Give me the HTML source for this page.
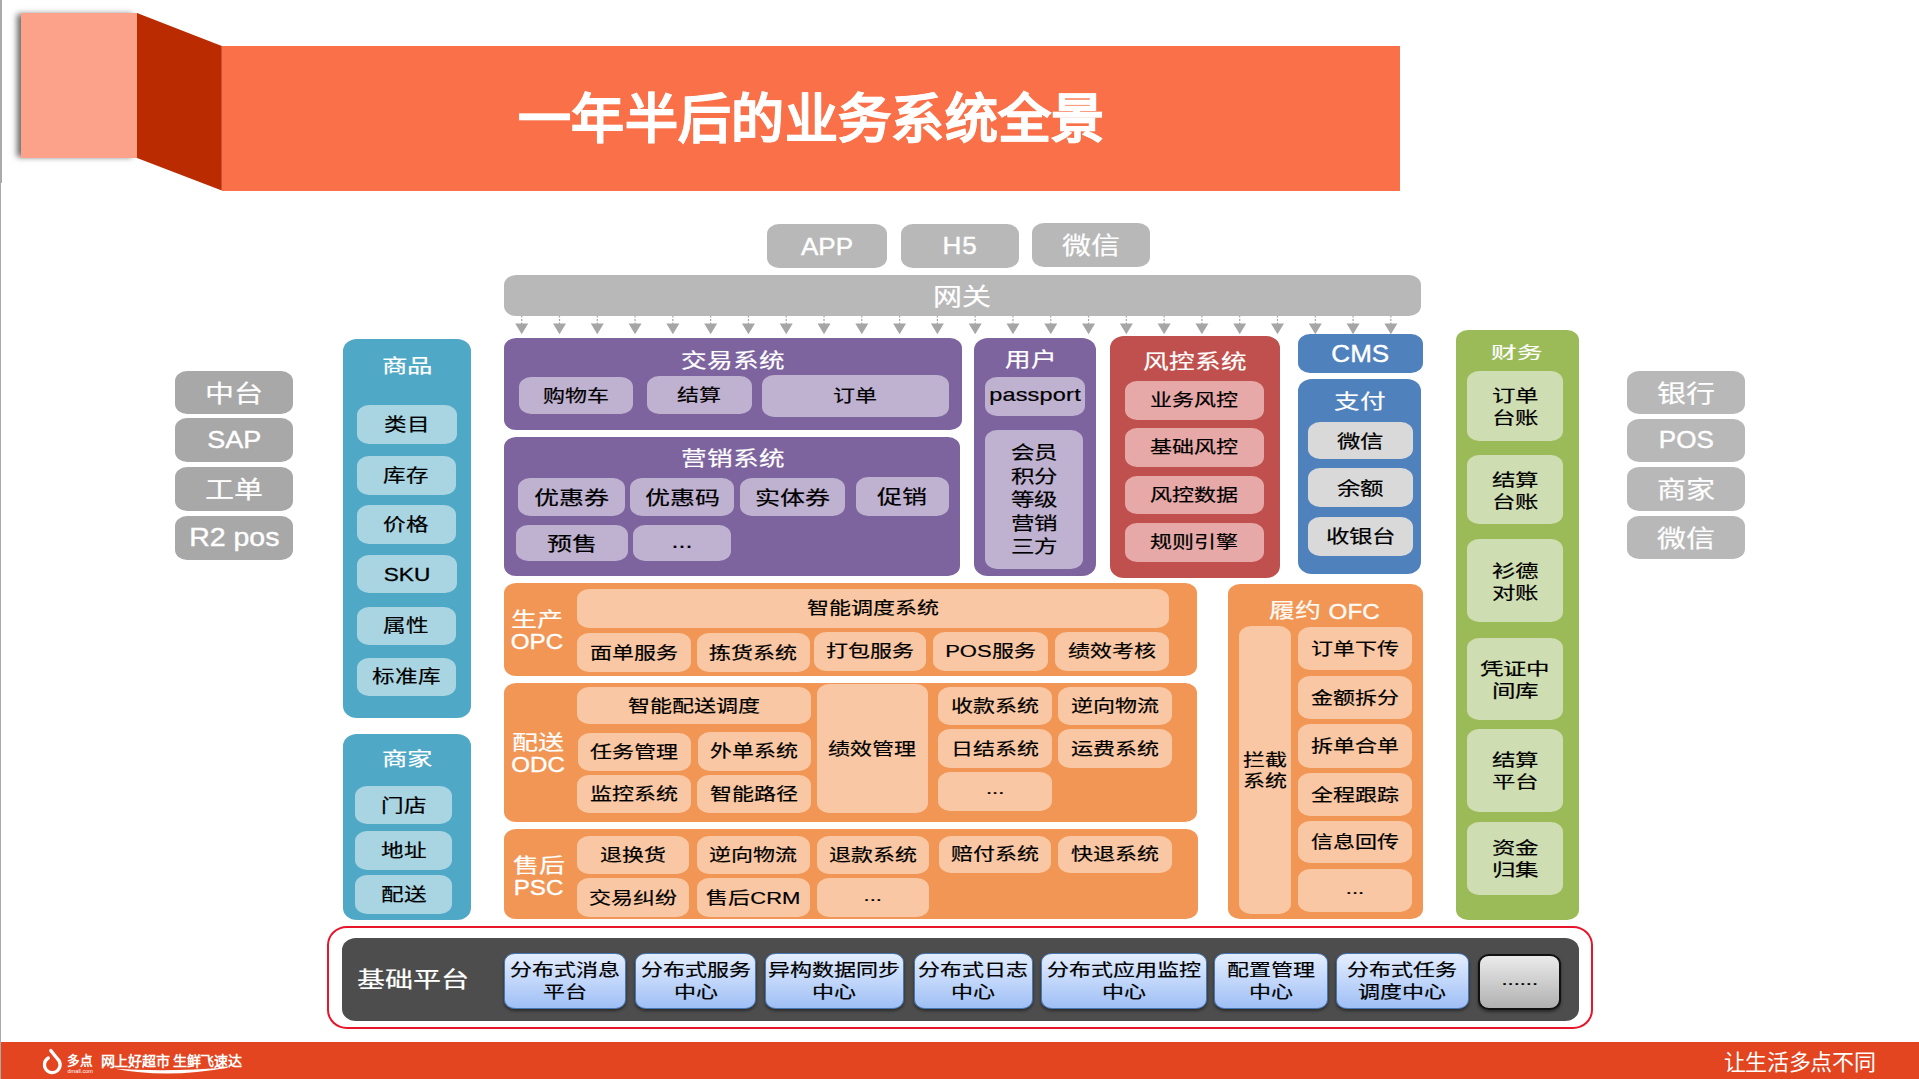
<!DOCTYPE html>
<html lang="zh-CN">
<head>
<meta charset="utf-8">
<title>一年半后的业务系统全景</title>
<style>
html,body{margin:0;padding:0;}
body{width:1919px;height:1079px;overflow:hidden;background:#fff;position:relative;font-family:"Liberation Sans",sans-serif;}
.b{position:absolute;box-sizing:border-box;border-radius:12px/10px;display:flex;align-items:center;justify-content:center;text-align:center;white-space:nowrap;color:#000;}
.b span{display:block;transform:scaleY(.78);position:relative;top:-1px;-webkit-text-stroke:0.25px currentColor;}
.l{position:absolute;transform:translate(-50%,-50%) scaleY(.78);white-space:nowrap;text-align:center;margin-top:-1.8px;-webkit-text-stroke:0.25px currentColor;}
.la{display:inline-block;font-size:.93em;transform:scaleY(1.15);-webkit-text-stroke:0.4px currentColor;}
.wt{color:#fff;}
.cream{color:#fffaf5;}
.t19b{font-size:25.6px;transform:translate(-50%,-50%) scaleY(.63);}
.t22{font-size:25.4px;}
.t23{font-size:26px;}
.t24{font-size:26px;}
.t25{font-size:25.6px;}
.t27{font-size:28px;}
.two{line-height:27px;}
.s21 span{font-size:22px;top:-1.9px;}
.s22 span{font-size:22px;}
.s23 span{font-size:23.5px;}
.s24 span{font-size:25px;}
.ml span{line-height:30px;top:0.6px;}
.ml2 span{line-height:25.6px;top:0.2px;}
.ml3 span{line-height:30.5px;top:1.4px;transform:scaleY(.72);}
.ml4 span{line-height:26.6px;top:0.4px;}
.r12{border-radius:14px/12px;}
.g1{background:#b8b8b8;color:#fff;font-size:29px;}
.g1 span,.g2 span,.g3 span{transform:scaleY(.82);top:-1.6px;}
.gw{border-radius:12px/10px;}
.g2{background:#a8a8a8;color:#fff;font-size:29px;}
.g3{background:#b8b8b8;color:#fff;font-size:29px;}
.b.lat span{font-size:26px;top:0.6px;transform:scaleY(.9);-webkit-text-stroke:0.45px currentColor;}
.b.pp span{font-size:23.5px;letter-spacing:0.2px;top:-0.5px;}
.b.r2 span{font-size:28.5px;top:-0.5px;}
.b.sap span{font-size:27px;}
.b.cms span{top:1.1px;}
.b.sku span{top:0.5px;transform:scaleY(.79);-webkit-text-stroke:0.4px currentColor;}
.b.app span{top:1.2px;}
.teal{background:#4fa8c6;border-radius:14px/12px;}
.teali{background:#a9d5e3;font-size:22.6px;}
.pur{background:#7e649e;}
.puri{background:#bfb1d0;}
.red{background:#c0504d;}
.redi{background:#e6a9a7;}
.blue{background:#4f81bd;}
.bluei{background:#d9d9d9;}
.org{background:#f19654;}
.orgi{background:#f9c7a3;}
.grn{background:#9bbb59;}
.grni{background:#cfddb2;}
.dark{background:#4d4d4d;border-radius:14px/12px;}
.bl{background:linear-gradient(#e4eeff,#9fbff5);border:1.5px solid #4878b4;border-radius:11px/9px;box-shadow:0 2px 3px rgba(0,0,0,.45);}
.gl{background:linear-gradient(#ebebeb,#b0b0b0);border:2px solid #111;border-radius:11px/10px;box-shadow:0 2px 3px rgba(0,0,0,.45);}
.redline{position:absolute;box-sizing:border-box;border:2.7px solid #e8152b;border-radius:20px/19px;}
.ar{position:absolute;left:0;top:0;}
.ar line{stroke:#a6a6a6;stroke-width:1.2;stroke-dasharray:2 1.5;}
.ar polygon{fill:#a6a6a6;}
#edge1{position:absolute;left:0;top:0;width:2px;height:182.5px;background:#aaa;}
#edge2{position:absolute;left:0;top:0;width:1px;height:1079px;background:#aaa;}
#sq{position:absolute;left:20.5px;top:13px;width:117px;height:145px;background:#fca18a;box-shadow:-5px 0 6px -1px rgba(0,0,0,.58);}
#banner{position:absolute;left:221.5px;top:46px;width:1178.5px;height:144.5px;background:#fa7048;}
#title{position:absolute;left:518px;top:118.5px;-webkit-text-stroke:0.7px #fff;transform:translateY(-50%);color:#fff;font-weight:bold;font-size:53px;letter-spacing:0.33px;white-space:nowrap;line-height:1;}
#foot{position:absolute;left:1px;top:1041.7px;width:1918px;height:37.3px;background:#e2451f;}
#slogan{position:absolute;left:1723.7px;top:1063px;transform:translateY(-50%);color:#fff;font-size:22px;letter-spacing:-0.35px;white-space:nowrap;line-height:1;font-weight:300;}
#brand{position:absolute;left:67.3px;top:1060.6px;transform:translateY(-50%);color:#fff;font-size:12.6px;font-weight:bold;white-space:nowrap;line-height:1;}
#brand2{position:absolute;left:67.5px;top:1068.6px;color:#fff;font-size:5.6px;white-space:nowrap;line-height:1;}
#tag{position:absolute;left:100.7px;top:1061px;transform:translateY(-50%);color:#fff;font-size:14px;letter-spacing:-0.29px;font-weight:bold;white-space:nowrap;line-height:1;}
</style>
</head>
<body>
<div id="edge2"></div><div id="edge1"></div>
<div id="sq"></div>
<svg class="ar" width="1919" height="1079" viewBox="0 0 1919 1079"><polygon points="137,13 221.8,46 221.8,190.5 137,158" style="fill:#ba2b02"/></svg>
<div id="banner"></div>
<div id="title">一年半后的业务系统全景</div>
<svg class="ar" width="1919" height="1079" viewBox="0 0 1919 1079"><line x1="521.70" y1="315.5" x2="521.70" y2="324" /><polygon points="515.20,323.6 528.20,323.6 521.70,334.3" /><line x1="559.49" y1="315.5" x2="559.49" y2="324" /><polygon points="552.99,323.6 565.99,323.6 559.49,334.3" /><line x1="597.28" y1="315.5" x2="597.28" y2="324" /><polygon points="590.78,323.6 603.78,323.6 597.28,334.3" /><line x1="635.07" y1="315.5" x2="635.07" y2="324" /><polygon points="628.57,323.6 641.57,323.6 635.07,334.3" /><line x1="672.86" y1="315.5" x2="672.86" y2="324" /><polygon points="666.36,323.6 679.36,323.6 672.86,334.3" /><line x1="710.65" y1="315.5" x2="710.65" y2="324" /><polygon points="704.15,323.6 717.15,323.6 710.65,334.3" /><line x1="748.44" y1="315.5" x2="748.44" y2="324" /><polygon points="741.94,323.6 754.94,323.6 748.44,334.3" /><line x1="786.23" y1="315.5" x2="786.23" y2="324" /><polygon points="779.73,323.6 792.73,323.6 786.23,334.3" /><line x1="824.02" y1="315.5" x2="824.02" y2="324" /><polygon points="817.52,323.6 830.52,323.6 824.02,334.3" /><line x1="861.81" y1="315.5" x2="861.81" y2="324" /><polygon points="855.31,323.6 868.31,323.6 861.81,334.3" /><line x1="899.60" y1="315.5" x2="899.60" y2="324" /><polygon points="893.10,323.6 906.10,323.6 899.60,334.3" /><line x1="937.39" y1="315.5" x2="937.39" y2="324" /><polygon points="930.89,323.6 943.89,323.6 937.39,334.3" /><line x1="975.18" y1="315.5" x2="975.18" y2="324" /><polygon points="968.68,323.6 981.68,323.6 975.18,334.3" /><line x1="1012.97" y1="315.5" x2="1012.97" y2="324" /><polygon points="1006.47,323.6 1019.47,323.6 1012.97,334.3" /><line x1="1050.76" y1="315.5" x2="1050.76" y2="324" /><polygon points="1044.26,323.6 1057.26,323.6 1050.76,334.3" /><line x1="1088.55" y1="315.5" x2="1088.55" y2="324" /><polygon points="1082.05,323.6 1095.05,323.6 1088.55,334.3" /><line x1="1126.34" y1="315.5" x2="1126.34" y2="324" /><polygon points="1119.84,323.6 1132.84,323.6 1126.34,334.3" /><line x1="1164.13" y1="315.5" x2="1164.13" y2="324" /><polygon points="1157.63,323.6 1170.63,323.6 1164.13,334.3" /><line x1="1201.92" y1="315.5" x2="1201.92" y2="324" /><polygon points="1195.42,323.6 1208.42,323.6 1201.92,334.3" /><line x1="1239.71" y1="315.5" x2="1239.71" y2="324" /><polygon points="1233.21,323.6 1246.21,323.6 1239.71,334.3" /><line x1="1277.50" y1="315.5" x2="1277.50" y2="324" /><polygon points="1271.00,323.6 1284.00,323.6 1277.50,334.3" /><line x1="1315.29" y1="315.5" x2="1315.29" y2="324" /><polygon points="1308.79,323.6 1321.79,323.6 1315.29,334.3" /><line x1="1353.08" y1="315.5" x2="1353.08" y2="324" /><polygon points="1346.58,323.6 1359.58,323.6 1353.08,334.3" /><line x1="1390.87" y1="315.5" x2="1390.87" y2="324" /><polygon points="1384.37,323.6 1397.37,323.6 1390.87,334.3" /></svg>
<div class="b g1 lat app" style="left:767.00px;top:224.20px;width:120.00px;height:43.50px;"><span>APP</span></div>
<div class="b g1 lat" style="left:901.00px;top:224.20px;width:118.20px;height:43.50px;letter-spacing:1px;"><span>H5</span></div>
<div class="b g1" style="left:1031.80px;top:223.00px;width:118.20px;height:43.60px;"><span>微信</span></div>
<div class="b g1 gw" style="left:503.75px;top:275.20px;width:917.25px;height:40.40px;"><span>网关</span></div>
<div class="b g2" style="left:175.20px;top:370.70px;width:118.30px;height:43.40px;"><span>中台</span></div>
<div class="b g2 lat sap" style="left:175.20px;top:418.30px;width:118.30px;height:43.40px;"><span>SAP</span></div>
<div class="b g2" style="left:175.20px;top:467.30px;width:118.30px;height:43.30px;"><span>工单</span></div>
<div class="b g2 lat r2" style="left:175.20px;top:516.20px;width:118.30px;height:43.60px;"><span>R2 pos</span></div>
<div class="b g3" style="left:1627.30px;top:371.00px;width:118.00px;height:43.00px;"><span>银行</span></div>
<div class="b g3 lat" style="left:1627.30px;top:418.50px;width:118.00px;height:43.20px;"><span>POS</span></div>
<div class="b g3" style="left:1627.30px;top:467.10px;width:118.00px;height:43.60px;"><span>商家</span></div>
<div class="b g3" style="left:1627.30px;top:516.10px;width:118.00px;height:43.20px;"><span>微信</span></div>
<div class="b teal" style="left:343.30px;top:339.00px;width:127.60px;height:378.80px;"><span></span></div>
<div class="l wt t22" style="left:407.00px;top:365.30px;">商品</div>
<div class="b teali" style="left:357.00px;top:405.00px;width:99.60px;height:39.00px;"><span>类目</span></div>
<div class="b teali" style="left:357.00px;top:455.70px;width:98.50px;height:39.30px;"><span>库存</span></div>
<div class="b teali" style="left:357.00px;top:505.00px;width:98.50px;height:39.00px;"><span>价格</span></div>
<div class="b teali sku" style="left:357.00px;top:555.20px;width:100.00px;height:38.30px;"><span>SKU</span></div>
<div class="b teali" style="left:357.00px;top:606.60px;width:98.50px;height:38.30px;"><span>属性</span></div>
<div class="b teali" style="left:357.00px;top:657.60px;width:98.50px;height:38.70px;"><span>标准库</span></div>
<div class="b teal" style="left:343.30px;top:734.40px;width:127.60px;height:185.90px;"><span></span></div>
<div class="l wt t22" style="left:407.00px;top:758.50px;">商家</div>
<div class="b teali" style="left:355.30px;top:786.00px;width:97.00px;height:38.00px;"><span>门店</span></div>
<div class="b teali" style="left:355.30px;top:831.20px;width:97.00px;height:38.80px;"><span>地址</span></div>
<div class="b teali" style="left:355.30px;top:875.30px;width:97.00px;height:38.30px;"><span>配送</span></div>
<div class="b pur" style="left:503.75px;top:338.00px;width:457.75px;height:92.00px;"><span></span></div>
<div class="l wt t25" style="left:732.50px;top:360.50px;">交易系统</div>
<div class="b puri s21" style="left:519.00px;top:377.00px;width:114.00px;height:37.25px;"><span>购物车</span></div>
<div class="b puri s21" style="left:646.75px;top:375.75px;width:104.75px;height:38.50px;"><span>结算</span></div>
<div class="b puri s21" style="left:761.75px;top:374.50px;width:187.25px;height:42.50px;"><span>订单</span></div>
<div class="b pur" style="left:503.75px;top:436.75px;width:456.25px;height:139.50px;"><span></span></div>
<div class="l wt t25" style="left:732.50px;top:458.75px;">营销系统</div>
<div class="b puri s24" style="left:517.50px;top:478.00px;width:107.50px;height:38.25px;"><span>优惠券</span></div>
<div class="b puri s24" style="left:630.00px;top:478.00px;width:104.25px;height:38.25px;"><span>优惠码</span></div>
<div class="b puri s24" style="left:740.00px;top:478.00px;width:104.75px;height:38.25px;"><span>实体券</span></div>
<div class="b puri s24" style="left:855.50px;top:477.00px;width:93.25px;height:38.50px;"><span>促销</span></div>
<div class="b puri s24" style="left:516.25px;top:524.50px;width:111.75px;height:36.75px;"><span>预售</span></div>
<div class="b puri s24" style="left:633.00px;top:524.50px;width:98.00px;height:36.75px;"><span>...</span></div>
<div class="b pur r12" style="left:974.25px;top:338.00px;width:121.50px;height:238.25px;"><span></span></div>
<div class="l wt t25" style="left:1031.00px;top:360.00px;">用户</div>
<div class="b puri s22 pp" style="left:985.00px;top:377.00px;width:100.00px;height:38.50px;"><span>passport</span></div>
<div class="b puri s23 ml" style="left:985.00px;top:429.50px;width:98.25px;height:139.75px;"><span>会员<br>积分<br>等级<br>营销<br>三方</span></div>
<div class="b red r12" style="left:1110.00px;top:335.50px;width:169.50px;height:242.00px;"><span></span></div>
<div class="l wt t25" style="left:1194.50px;top:362.00px;">风控系统</div>
<div class="b redi s21" style="left:1125.00px;top:380.50px;width:138.75px;height:39.00px;"><span>业务风控</span></div>
<div class="b redi s21" style="left:1125.00px;top:428.00px;width:138.75px;height:38.75px;"><span>基础风控</span></div>
<div class="b redi s21" style="left:1125.00px;top:475.50px;width:138.75px;height:38.75px;"><span>风控数据</span></div>
<div class="b redi s21" style="left:1125.00px;top:523.00px;width:138.75px;height:38.75px;"><span>规则引擎</span></div>
<div class="b blue wt lat cms" style="left:1298.00px;top:334.25px;width:124.50px;height:38.25px;"><span>CMS</span></div>
<div class="b blue r12" style="left:1298.00px;top:378.75px;width:123.25px;height:195.00px;"><span></span></div>
<div class="l wt t25" style="left:1359.50px;top:402.20px;">支付</div>
<div class="b bluei s23" style="left:1307.50px;top:422.00px;width:105.75px;height:37.25px;"><span>微信</span></div>
<div class="b bluei s23" style="left:1307.50px;top:468.25px;width:105.75px;height:38.50px;"><span>余额</span></div>
<div class="b bluei s23" style="left:1307.50px;top:517.00px;width:105.75px;height:38.50px;"><span>收银台</span></div>
<div class="b org" style="left:503.75px;top:583.00px;width:693.00px;height:93.25px;"><span></span></div>
<div class="l wt t24 two" style="left:537.00px;top:633.00px;">生产<br><span class="la">OPC</span></div>
<div class="b orgi s21" style="left:576.75px;top:589.25px;width:592.00px;height:38.25px;"><span>智能调度系统</span></div>
<div class="b orgi s21" style="left:576.75px;top:633.25px;width:113.75px;height:38.50px;"><span>面单服务</span></div>
<div class="b orgi s21" style="left:696.75px;top:633.25px;width:113.25px;height:38.50px;"><span>拣货系统</span></div>
<div class="b orgi s21" style="left:813.75px;top:632.00px;width:112.00px;height:38.50px;"><span>打包服务</span></div>
<div class="b orgi s21" style="left:933.25px;top:632.00px;width:114.25px;height:38.50px;"><span>POS服务</span></div>
<div class="b orgi s21" style="left:1055.00px;top:632.00px;width:113.75px;height:38.50px;"><span>绩效考核</span></div>
<div class="b org" style="left:503.75px;top:683.25px;width:693.00px;height:138.25px;"><span></span></div>
<div class="l wt t24 two" style="left:538.00px;top:755.50px;">配送<br><span class="la">ODC</span></div>
<div class="b orgi s21" style="left:576.75px;top:687.00px;width:233.75px;height:37.25px;"><span>智能配送调度</span></div>
<div class="b orgi s21" style="left:578.25px;top:733.00px;width:112.25px;height:37.50px;"><span>任务管理</span></div>
<div class="b orgi s21" style="left:698.25px;top:732.00px;width:112.25px;height:38.50px;"><span>外单系统</span></div>
<div class="b orgi s21" style="left:576.75px;top:774.50px;width:113.75px;height:38.50px;"><span>监控系统</span></div>
<div class="b orgi s21" style="left:696.75px;top:774.50px;width:113.75px;height:38.50px;"><span>智能路径</span></div>
<div class="b orgi s21" style="left:816.75px;top:684.25px;width:110.75px;height:128.75px;"><span>绩效管理</span></div>
<div class="b orgi s21" style="left:938.25px;top:686.75px;width:113.75px;height:38.25px;"><span>收款系统</span></div>
<div class="b orgi s21" style="left:1058.25px;top:686.75px;width:113.50px;height:38.25px;"><span>逆向物流</span></div>
<div class="b orgi s21" style="left:938.25px;top:729.25px;width:113.75px;height:38.75px;"><span>日结系统</span></div>
<div class="b orgi s21" style="left:1058.25px;top:729.25px;width:113.50px;height:38.75px;"><span>运费系统</span></div>
<div class="b orgi s21" style="left:938.25px;top:771.75px;width:113.75px;height:38.75px;"><span>...</span></div>
<div class="b org" style="left:503.75px;top:829.40px;width:694.50px;height:89.60px;"><span></span></div>
<div class="l wt t24 two" style="left:538.50px;top:878.50px;">售后<br><span class="la">PSC</span></div>
<div class="b orgi s21" style="left:576.75px;top:835.75px;width:112.00px;height:38.50px;"><span>退换货</span></div>
<div class="b orgi s21" style="left:696.75px;top:835.75px;width:113.25px;height:38.50px;"><span>逆向物流</span></div>
<div class="b orgi s21" style="left:816.75px;top:835.75px;width:112.00px;height:38.50px;"><span>退款系统</span></div>
<div class="b orgi s21" style="left:938.75px;top:835.75px;width:111.75px;height:37.25px;"><span>赔付系统</span></div>
<div class="b orgi s21" style="left:1058.25px;top:835.75px;width:113.75px;height:37.25px;"><span>快退系统</span></div>
<div class="b orgi s21" style="left:576.75px;top:878.25px;width:112.00px;height:38.75px;"><span>交易纠纷</span></div>
<div class="b orgi s21" style="left:696.75px;top:878.25px;width:113.25px;height:38.75px;"><span>售后CRM</span></div>
<div class="b orgi s21" style="left:816.75px;top:878.25px;width:112.00px;height:38.75px;"><span>...</span></div>
<div class="b org" style="left:1228.30px;top:584.00px;width:194.40px;height:335.20px;"><span></span></div>
<div class="l cream t23" style="left:1324.50px;top:611.00px;">履约 <span class="la">OFC</span></div>
<div class="b orgi s21 ml2" style="left:1239.00px;top:625.70px;width:51.70px;height:288.80px;"><span>拦截<br>系统</span></div>
<div class="b orgi s21" style="left:1298.30px;top:627.30px;width:113.40px;height:42.70px;"><span>订单下传</span></div>
<div class="b orgi s21" style="left:1298.30px;top:676.00px;width:113.40px;height:43.00px;"><span>金额拆分</span></div>
<div class="b orgi s21" style="left:1298.30px;top:724.30px;width:113.40px;height:43.40px;"><span>拆单合单</span></div>
<div class="b orgi s21" style="left:1298.30px;top:773.30px;width:113.40px;height:42.40px;"><span>全程跟踪</span></div>
<div class="b orgi s21" style="left:1298.30px;top:821.00px;width:113.40px;height:42.30px;"><span>信息回传</span></div>
<div class="b orgi s21" style="left:1298.30px;top:869.30px;width:113.40px;height:42.40px;"><span>...</span></div>
<div class="b grn" style="left:1455.70px;top:330.30px;width:123.20px;height:589.50px;"><span></span></div>
<div class="l wt t19b" style="left:1516.50px;top:353.00px;">财务</div>
<div class="b grni s23 ml3" style="left:1466.60px;top:371.00px;width:96.60px;height:70.00px;"><span>订单<br>台账</span></div>
<div class="b grni s23 ml3" style="left:1466.60px;top:455.10px;width:96.60px;height:69.10px;"><span>结算<br>台账</span></div>
<div class="b grni s23 ml3" style="left:1466.60px;top:539.20px;width:96.60px;height:83.30px;"><span>衫德<br>对账</span></div>
<div class="b grni s23 ml3" style="left:1466.60px;top:638.30px;width:96.60px;height:81.70px;"><span>凭证中<br>间库</span></div>
<div class="b grni s23 ml3" style="left:1466.60px;top:729.00px;width:96.60px;height:82.70px;"><span>结算<br>平台</span></div>
<div class="b grni s23 ml3" style="left:1466.60px;top:821.70px;width:96.60px;height:73.30px;"><span>资金<br>归集</span></div>
<div class="redline" style="left:327.1px;top:925.7px;width:1265.7px;height:103.2px;"></div>
<div class="b dark" style="left:341.75px;top:938.00px;width:1237.00px;height:82.75px;"><span></span></div>
<div class="l wt t27" style="left:412.50px;top:979.50px;">基础平台</div>
<div class="b bl s21 ml4" style="left:503.75px;top:953.30px;width:122.50px;height:56.20px;"><span>分布式消息<br>平台</span></div>
<div class="b bl s21 ml4" style="left:635.00px;top:953.30px;width:121.25px;height:56.20px;"><span>分布式服务<br>中心</span></div>
<div class="b bl s21 ml4" style="left:764.50px;top:953.30px;width:139.75px;height:56.20px;"><span>异构数据同步<br>中心</span></div>
<div class="b bl s21 ml4" style="left:913.75px;top:953.30px;width:118.75px;height:56.20px;"><span>分布式日志<br>中心</span></div>
<div class="b bl s21 ml4" style="left:1041.25px;top:953.30px;width:165.75px;height:56.20px;"><span>分布式应用监控<br>中心</span></div>
<div class="b bl s21 ml4" style="left:1214.25px;top:953.30px;width:113.25px;height:56.20px;"><span>配置管理<br>中心</span></div>
<div class="b bl s21 ml4" style="left:1335.75px;top:953.30px;width:133.00px;height:56.20px;"><span>分布式任务<br>调度中心</span></div>
<div class="b gl s21" style="left:1478.25px;top:953.80px;width:83.05px;height:55.80px;"><span>......</span></div>
<div id="foot"></div>
<svg class="ar" width="1919" height="1079" viewBox="0 0 1919 1079">
<path d="M50.8 1050.6 L57.6 1059 A7.85 7.85 0 1 1 48.3 1058" fill="none" stroke="#fff" stroke-width="3.3" stroke-linecap="round" stroke-linejoin="round"/>
<path d="M115 1068.8 Q167 1072 229 1067.6 Q167 1079 115 1068.8Z" fill="#fff"/>
</svg>
<div id="brand">多点</div><div id="brand2">dmall.com</div>
<div id="tag">网上好超市 生鲜飞速达</div>
<div id="slogan">让生活多点不同</div>
</body>
</html>
